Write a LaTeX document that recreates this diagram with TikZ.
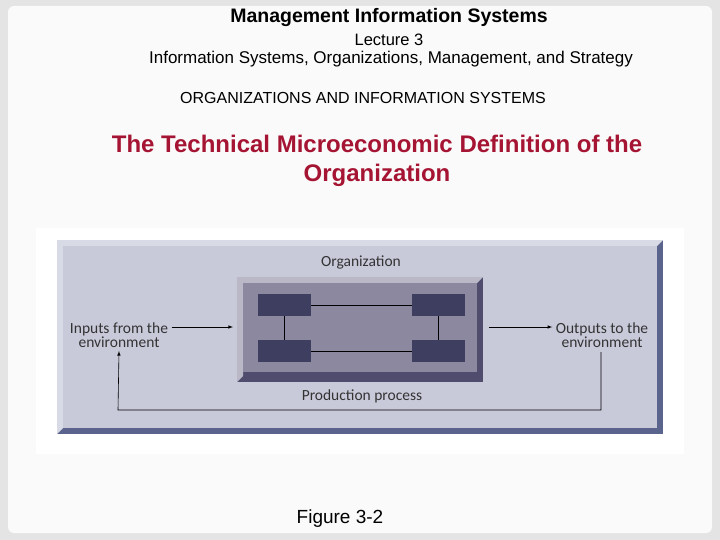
\documentclass[tikz,border=0pt]{standalone}
\usepackage{fontspec}
\setmainfont{Liberation Sans}
\newfontfamily\figfont{Carlito}
\definecolor{slidebg}{RGB}{228,228,228}
\definecolor{panelbg}{RGB}{250,250,250}
\definecolor{fig}{RGB}{200,202,218}
\definecolor{figedge}{RGB}{90,100,140}
\definecolor{orgbg}{RGB}{140,136,160}
\definecolor{orgedge}{RGB}{80,76,110}
\definecolor{smallbox}{RGB}{62,62,96}
\definecolor{titlered}{RGB}{165,20,50}
\begin{document}
\begin{tikzpicture}[x=1pt,y=-1pt,
  lbl/.style={font=\figfont\fontsize{15.5}{14}\selectfont, text=black!80, align=center},
  sb/.style={fill=smallbox, minimum width=53pt, minimum height=22pt, inner sep=0pt},
  conn/.style={line width=0.6pt},
  arr/.style={line width=0.6pt,-latex}]
\useasboundingbox (0,0) rectangle (720,540);
\fill[slidebg] (0,0) rectangle (720,540);
\fill[panelbg, rounded corners=6pt] (8,6) rectangle (712,533);
\node[font=\bfseries\fontsize{19.5}{20}\selectfont] (t1) at (389,18) {Management Information Systems};
\node[font=\fontsize{16.5}{18}\selectfont] (t2) at (389,40) {Lecture 3};
\node[font=\fontsize{17}{18}\selectfont] (t3) at (391,59) {Information Systems, Organizations, Management, and Strategy};
\node[font=\fontsize{16}{18}\selectfont] (t4) at (363,98) {ORGANIZATIONS AND INFORMATION SYSTEMS};
\node[font=\bfseries\fontsize{24}{29}\selectfont, text=titlered, align=center] (t5) at (377,161) {The Technical Microeconomic Definition of the\\Organization};
\node[font=\fontsize{19}{20}\selectfont] (t6) at (340,519) {Figure 3-2};
% figure
\fill[white] (36,228) rectangle (684,454);
\fill[figedge] (57,240) rectangle (663,434);
\fill[fig!70!white] (57,240) -- (663,240) -- (657,246) -- (63,246) -- (63,428) -- (57,434) -- cycle;
\fill[fig] (63,246) rectangle (657,428);
\fill[orgedge] (237,277) rectangle (483,382);
\fill[orgbg!60!white] (237,277) -- (483,277) -- (477,283) -- (243,283) -- (243,376) -- (237,382) -- cycle;
\fill[orgbg] (243,283) rectangle (477,372);
\node[lbl] (org) at (361,262) {Organization};
\node[lbl] (prod) at (362,396) {Production process};
\node[sb] (a) at (284.5,305) {};
\node[sb] (b) at (438.5,305) {};
\node[sb] (c) at (284.5,351) {};
\node[sb] (d) at (438.5,351) {};
\draw[conn] (a) -- (b); \draw[conn] (c) -- (d);
\draw[conn] (a) -- (c); \draw[conn] (b) -- (d);
\node[lbl] (in) at (119,335) {Inputs from the\\environment};
\node[lbl] (out) at (602,335) {Outputs to the\\environment};
\coordinate (orgL) at (233,327);
\coordinate (orgR) at (489,327);
\draw[arr] (in.east |- orgL) -- (orgL);
\draw[arr] (orgR) -- (out.west |- orgR);
\draw[arr] (601,352) -- (601,410) -- (118,410) -- (in.south);
\end{tikzpicture}
\end{document}
